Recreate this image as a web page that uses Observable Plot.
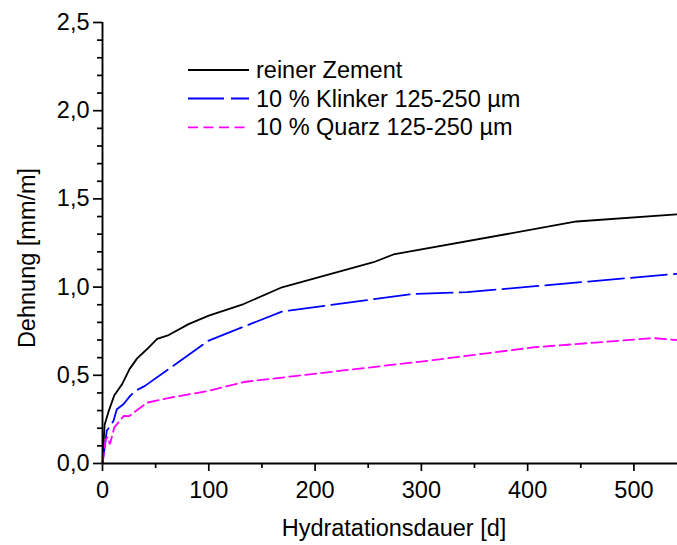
<!DOCTYPE html>
<html>
<head>
<meta charset="utf-8">
<script src="https://cdn.jsdelivr.net/npm/d3@7"></script>
<script src="https://cdn.jsdelivr.net/npm/@observablehq/plot@0.6"></script>
<style>
  html, body { margin: 0; padding: 0; background: #fff; }
  #chart { width: 677px; height: 545px; }
</style>
</head>
<body>
<div id="chart"></div>
<script>
// ---- data ----
const seriesNames = ["reiner Zement", "10 % Klinker 125-250 µm", "10 % Quarz 125-250 µm"];
const seriesColors = ["#000000", "#0000ff", "#ff00ff"];
const seriesDash = [null, "36,7", "11,5"];

const daysZement = [0, 0.8, 2, 6, 11, 18.5, 25.4, 32.6, 42, 51.4, 62.3, 81, 100, 132.8, 168.9, 255, 273.8, 446, 540];
const dehnungZement = [0, 0.1, 0.22, 0.3, 0.385, 0.45, 0.535, 0.596, 0.649, 0.706, 0.728, 0.79, 0.838, 0.904, 0.999, 1.141, 1.185, 1.372, 1.412];

const daysKlinker = [0, 2, 4, 10.3, 13.5, 19.7, 26, 31, 40, 100, 169, 292, 343, 540];
const dehnungKlinker = [0, 0.09, 0.185, 0.241, 0.308, 0.336, 0.383, 0.412, 0.44, 0.697, 0.862, 0.961, 0.971, 1.075];

const daysQuarz = [0, 3, 5, 7, 11, 20, 25, 42, 68, 100, 133, 183, 311, 405, 518, 540];
const dehnungQuarz = [0, 0.137, 0.15, 0.109, 0.203, 0.27, 0.268, 0.345, 0.378, 0.412, 0.462, 0.497, 0.586, 0.658, 0.711, 0.70];

const xMajorTicks = [0, 100, 200, 300, 400, 500];
const xMinorTicks = [50, 150, 250, 350, 450];
const yMajorTicks = [0, 0.5, 1.0, 1.5, 2.0, 2.5];
const yMinorTicks = [0.1, 0.2, 0.3, 0.4, 0.6, 0.7, 0.8, 0.9, 1.1, 1.2, 1.3, 1.4, 1.6, 1.7, 1.8, 1.9, 2.1, 2.2, 2.3, 2.4];

const xLabel = "Hydratationsdauer [d]";
const yLabel = "Dehnung [mm/m]";

// ---- tables built from the arrays ----
const toRows = (xs, ys) => xs.map((d, i) => ({d, v: ys[i]}));
const tables = [
  toRows(daysZement, dehnungZement),
  toRows(daysKlinker, dehnungKlinker),
  toRows(daysQuarz, dehnungQuarz)
];

const fmtY = d => d.toFixed(1).replace(".", ",");
const FS = 23.5;

const plot = Plot.plot({
  width: 677,
  height: 545,
  marginLeft: 102,
  marginRight: 0,
  marginTop: 22,
  marginBottom: 82,
  style: {fontFamily: "'Liberation Sans', Arial, sans-serif", fontSize: FS + "px", color: "#000", background: "#fff", overflow: "visible"},
  x: {domain: [0, 541], axis: null},
  y: {domain: [0, 2.5], axis: null},
  marks: [
    Plot.axisY({ticks: yMinorTicks, tickSize: 5, tickFormat: () => "", strokeWidth: 1.7, label: null}),
    Plot.axisY({ticks: yMajorTicks, tickSize: 9, tickPadding: 4, tickFormat: fmtY, strokeWidth: 1.7, fontSize: FS, label: null}),
    Plot.axisX({ticks: xMinorTicks, tickSize: 5, tickFormat: () => "", strokeWidth: 1.7, label: null}),
    Plot.axisX({ticks: xMajorTicks, tickSize: 8, tickPadding: 10, tickFormat: d => String(d), strokeWidth: 1.7, fontSize: FS, label: null}),
    ...tables.map((t, i) => Plot.line(t, {
      x: "d", y: "v",
      stroke: seriesColors[i],
      strokeWidth: 1.8,
      strokeDasharray: seriesDash[i] || undefined,
      strokeLinejoin: "miter"
    })),
    Plot.ruleX([0], {strokeWidth: 1.9}),
    Plot.ruleY([0], {strokeWidth: 1.9}),
    Plot.text([yLabel], {frameAnchor: "left", textAnchor: "middle", lineAnchor: "middle", dx: -75.5, dy: 15, rotate: -90, fontSize: FS, fill: "#000"}),
    Plot.text([xLabel], {frameAnchor: "bottom", textAnchor: "middle", lineAnchor: "middle", dx: 4, dy: 65, fontSize: FS, fill: "#000"})
  ]
});

document.getElementById("chart").appendChild(plot);

// ---- legend inside the plot area ----
const svg = d3.select(plot);
const lg = svg.append("g").attr("class", "legend").attr("text-anchor", "start");
const rowY = [70, 98.5, 127.3];
seriesNames.forEach((name, i) => {
  lg.append("line")
    .attr("x1", 188).attr("x2", 249)
    .attr("y1", rowY[i]).attr("y2", rowY[i])
    .attr("stroke", seriesColors[i])
    .attr("stroke-width", 1.8)
    .attr("stroke-dasharray", i === 2 ? "10,5.5" : seriesDash[i]);
  lg.append("text")
    .attr("x", 256).attr("y", rowY[i] + 8)
    .attr("text-anchor", "start")
    .attr("font-size", FS)
    .attr("fill", "#000")
    .text(name);
});
</script>
</body>
</html>
